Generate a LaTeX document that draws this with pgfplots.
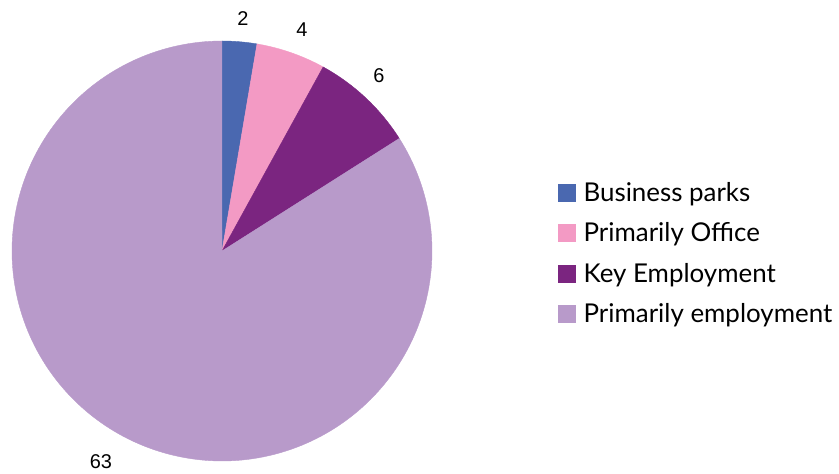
\documentclass[border=0pt]{standalone}
\usepackage{pgfplots}
\pgfplotsset{compat=1.18}
\usepackage{pgfplotstable}
\usepackage{fontspec}
\setmainfont{Liberation Sans}
\newfontfamily\legfont{Lato}
\definecolor{cA}{HTML}{4A68B0}
\definecolor{cB}{HTML}{F39AC4}
\definecolor{cC}{HTML}{7B2580}
\definecolor{cD}{HTML}{B89ACA}
\pgfplotstableread{
name value
Business 2
Office 4
Key 6
Employment 63
}\pietable
\pgfplotstablegetelem{0}{value}\of\pietable \let\vA\pgfplotsretval
\pgfplotstablegetelem{1}{value}\of\pietable \let\vB\pgfplotsretval
\pgfplotstablegetelem{2}{value}\of\pietable \let\vC\pgfplotsretval
\pgfplotstablegetelem{3}{value}\of\pietable \let\vD\pgfplotsretval
\pgfmathsetmacro\tot{\vA+\vB+\vC+\vD}
\pgfmathsetmacro\aA{90}
\pgfmathsetmacro\aB{90-\vA/\tot*360}
\pgfmathsetmacro\aC{\aB-\vB/\tot*360}
\pgfmathsetmacro\aD{\aC-\vC/\tot*360}
\pgfmathsetmacro\aE{\aD-\vD/\tot*360}
\begin{document}
\begin{tikzpicture}
\begin{axis}[
  width=839bp, height=474bp, scale only axis,
  xmin=0, xmax=839, ymin=0, ymax=474,
  hide axis, clip=false,
  legend style={at={(axis cs:558,294)}, anchor=north west, draw=none, fill=none,
    font=\legfont\fontsize{26}{30}\selectfont, row sep=16bp, column sep=6bp, inner sep=0pt},
  legend cell align=left,
  legend image code/.code={\fill[#1] (0bp,-8.5bp) rectangle (17bp,8.5bp);},
]
\path (rel axis cs:0,0) rectangle (rel axis cs:1,1);
\addplot[draw=cA, fill=cA, line width=0.4bp, domain=\aB:\aA, samples=30, variable=\t]
  ({222+210*cos(\t)},{223+210*sin(\t)}) -- (axis cs:222,223) -- cycle;
\addlegendentry{Business parks}
\addplot[draw=cB, fill=cB, line width=0.4bp, domain=\aC:\aB, samples=40, variable=\t]
  ({222+210*cos(\t)},{223+210*sin(\t)}) -- (axis cs:222,223) -- cycle;
\addlegendentry{Primarily Office}
\addplot[draw=cC, fill=cC, line width=0.4bp, domain=\aD:\aC, samples=40, variable=\t]
  ({222+210*cos(\t)},{223+210*sin(\t)}) -- (axis cs:222,223) -- cycle;
\addlegendentry{Key Employment}
\addplot[draw=cD, fill=cD, line width=0.4bp, domain=\aE:\aD, samples=200, variable=\t]
  ({222+210*cos(\t)},{223+210*sin(\t)}) -- (axis cs:222,223) -- cycle;
\addlegendentry{Primarily employment}
\node[font=\fontsize{20}{24}\selectfont] at (axis cs:243,455) {2};
\node[font=\fontsize{20}{24}\selectfont] at (axis cs:302,444) {4};
\node[font=\fontsize{20}{24}\selectfont] at (axis cs:379,398) {6};
\node[font=\fontsize{20}{24}\selectfont] at (axis cs:101,12) {63};
\end{axis}
\end{tikzpicture}
\end{document}
